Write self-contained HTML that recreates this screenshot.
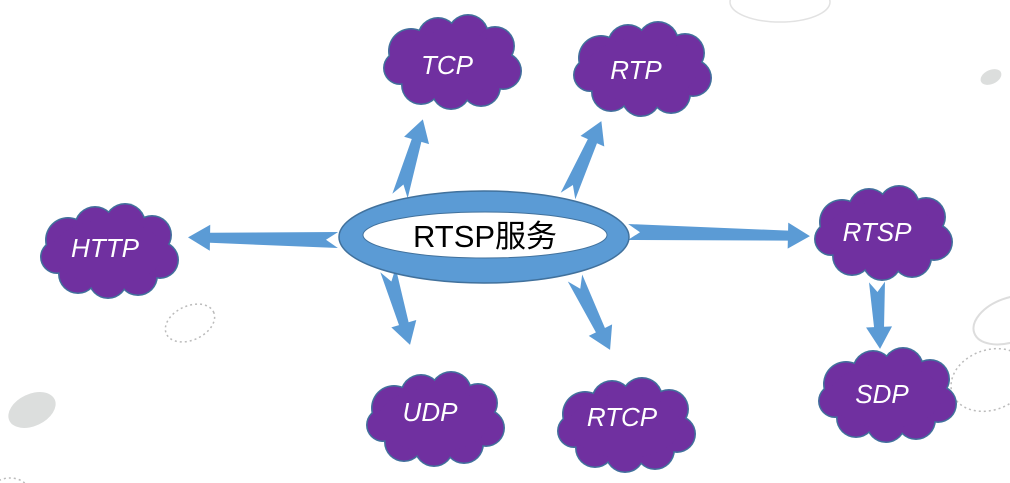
<!DOCTYPE html>
<html><head><meta charset="utf-8"><style>
html,body{margin:0;padding:0;background:#fff;}
svg{display:block;}
text{font-family:"Liberation Sans","Noto Sans CJK SC",sans-serif;}
.ct{fill:#fff;font-size:26px;font-style:italic;text-anchor:middle;}
</style></head><body>
<svg width="1010" height="483" viewBox="0 0 1010 483" xmlns="http://www.w3.org/2000/svg">
<defs>
<g id="cloud">
 <g fill="#41719c">
  <circle cx="30" cy="36" r="23"/><circle cx="57" cy="23" r="21"/><circle cx="87" cy="20" r="21"/><circle cx="114" cy="31" r="20"/><circle cx="122" cy="56" r="19"/><circle cx="100" cy="72" r="20"/><circle cx="70" cy="75" r="20"/><circle cx="40" cy="70" r="20"/><circle cx="19" cy="53" r="17"/>
 </g>
 <g fill="#7030a0">
  <circle cx="30" cy="36" r="21.5"/><circle cx="57" cy="23" r="19.5"/><circle cx="87" cy="20" r="19.5"/><circle cx="114" cy="31" r="18.5"/><circle cx="122" cy="56" r="17.5"/><circle cx="100" cy="72" r="18.5"/><circle cx="70" cy="75" r="18.5"/><circle cx="40" cy="70" r="18.5"/><circle cx="19" cy="53" r="15.5"/>
  <ellipse cx="70" cy="48" rx="56" ry="32"/>
 </g>
</g>
</defs>
<!-- decorations -->
<ellipse cx="32" cy="410" rx="25" ry="16" transform="rotate(-25 32 410)" fill="#dcdedd"/>
<ellipse cx="991" cy="77" rx="11" ry="7" transform="rotate(-25 991 77)" fill="#dcdedd"/>
<ellipse cx="190" cy="323" rx="26" ry="17" transform="rotate(-25 190 323)" fill="none" stroke="#bbb" stroke-width="1.5" stroke-dasharray="2 3"/>
<ellipse cx="990" cy="380" rx="40" ry="30" transform="rotate(-20 990 380)" fill="none" stroke="#bbb" stroke-width="1.5" stroke-dasharray="2 3"/>
<ellipse cx="1010" cy="320" rx="38" ry="22" transform="rotate(-20 1010 320)" fill="none" stroke="#ddd" stroke-width="2"/>
<ellipse cx="780" cy="2" rx="50" ry="20" fill="none" stroke="#e2e2e2" stroke-width="1.5"/>
<ellipse cx="10" cy="490" rx="18" ry="12" fill="none" stroke="#bbb" stroke-width="1.5" stroke-dasharray="2 3"/>
<!-- arrows -->
<g fill="#5b9bd5">
 <polygon transform="translate(338,240) rotate(181)" points="0,-8 128,-5 128,-13 150,0 128,13 128,5 0,8 12,0"/>
 <polygon transform="translate(628,232) rotate(1.3)" points="0,-8 160,-5 160,-13 182,0 160,13 160,5 0,8 12,0"/>
 <polygon transform="translate(400,196) rotate(-73.4)" points="0,-8 58,-5 58,-13 80,0 58,13 58,5 0,8 12,0"/>
 <polygon transform="translate(568,196) rotate(-66)" points="0,-8 60,-5 60,-13 82,0 60,13 60,5 0,8 12,0"/>
 <polygon transform="translate(388,270) rotate(73.6)" points="0,-8 56,-5 56,-13 78,0 56,13 56,5 0,8 12,0"/>
 <polygon transform="translate(575,278) rotate(64)" points="0,-8 58,-5 58,-13 80,0 58,13 58,5 0,8 12,0"/>
 <polygon transform="translate(877,282) rotate(87.4)" points="0,-8 45,-5 45,-13 67,0 45,13 45,5 0,8 10,0"/>
</g>
<!-- center ring -->
<ellipse cx="484" cy="237" rx="145" ry="46" fill="#5b9bd5" stroke="#41719c" stroke-width="1.5"/>
<ellipse cx="485" cy="235" rx="122" ry="23" fill="#fff" stroke="#41719c" stroke-width="1"/>
<text x="485" y="247" font-size="31" text-anchor="middle" fill="#000">RTSP服务</text>
<!-- clouds -->
<use href="#cloud" transform="translate(381,15)"/>
<text class="ct" x="447" y="74">TCP</text>
<use href="#cloud" transform="translate(571,22)"/>
<text class="ct" x="636" y="79">RTP</text>
<use href="#cloud" transform="translate(38,204)"/>
<text class="ct" x="105" y="257">HTTP</text>
<use href="#cloud" transform="translate(812,186)"/>
<text class="ct" x="877" y="241">RTSP</text>
<use href="#cloud" transform="translate(816,348)"/>
<text class="ct" x="882" y="403">SDP</text>
<use href="#cloud" transform="translate(364,372)"/>
<text class="ct" x="430" y="421">UDP</text>
<use href="#cloud" transform="translate(555,378)"/>
<text class="ct" x="622" y="426">RTCP</text>
</svg>
</body></html>
